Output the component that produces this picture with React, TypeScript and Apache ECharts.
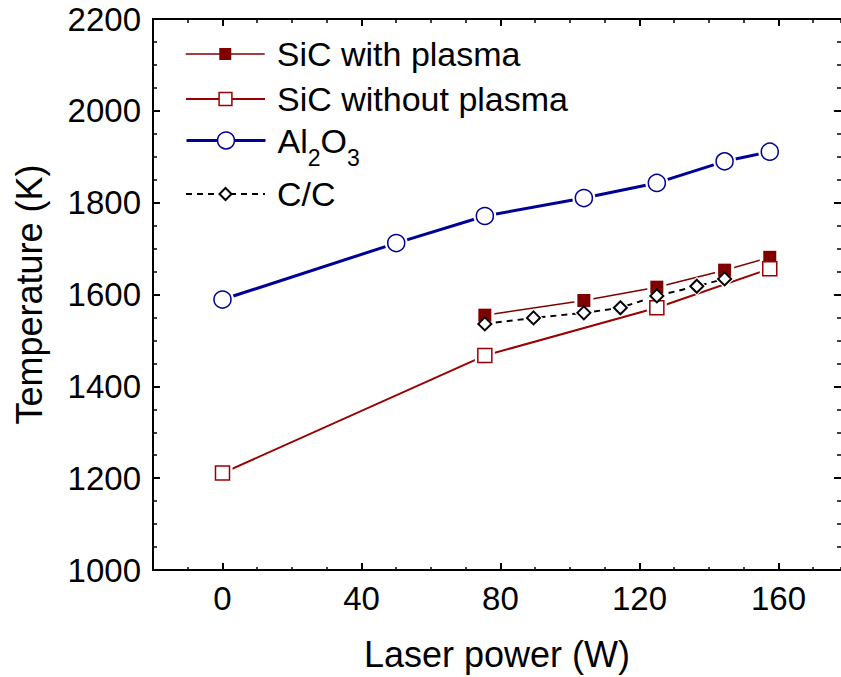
import React, { useEffect, useRef } from "react";
import * as echarts from "echarts";

// ---- tick values ----
const xMajorTicks = [0, 40, 80, 120, 160];
const yMajorTicks = [1000, 1200, 1400, 1600, 1800, 2000, 2200];

// ---- data: laser power (W) vs temperature (K) ----
const sicPlasmaPower = [75.5, 104, 125, 144.5, 157.5];
const sicPlasmaTemp = [1555, 1587, 1616, 1653, 1681];

const sicNoPlasmaPower = [0, 75.5, 125, 157.5];
const sicNoPlasmaTemp = [1211, 1467, 1571, 1656];

const al2o3Power = [0, 50, 75.5, 104, 125, 144.5, 157.5];
const al2o3Temp = [1589, 1712, 1771, 1810, 1843, 1890, 1911];

const ccPower = [75.5, 89.5, 104, 114.5, 125, 136.5, 144.5];
const ccTemp = [1536, 1549, 1560, 1571, 1597, 1618, 1634];

const zip = (xs: number[], ys: number[]) => xs.map((x, i) => [x, ys[i]]);

const FONT = "Liberation Sans, Arial, sans-serif";
const RED = "#800000";
const RED2 = "#9a0000";
const NAVY = "#000096";

export default function App() {
  const ref = useRef<HTMLDivElement>(null);

  useEffect(() => {
    if (!ref.current) return;
    const chart = echarts.init(ref.current, undefined, { renderer: "svg" });

    const grid = { left: 153, top: 19, width: 688, height: 552 };
    const xBase = { type: "value", min: -20, max: 178 };
    const yBase = { type: "value", min: 1000, max: 2200, interval: 200 };

    const sets = [
      { name: "SiC with plasma", data: zip(sicPlasmaPower, sicPlasmaTemp), symbol: "rect", size: 13,
        item: { color: RED, borderWidth: 0, opacity: 1 }, line: { color: RED, width: 1.5 },
        legendTop: 36, legendH: 15 },
      { name: "SiC without plasma", data: zip(sicNoPlasmaPower, sicNoPlasmaTemp), symbol: "rect", size: 14,
        item: { color: "#fff", borderColor: RED2, borderWidth: 1.5, opacity: 1 }, line: { color: RED2, width: 2 },
        legendTop: 81, legendH: 16 },
      { name: "Al2O3", data: zip(al2o3Power, al2o3Temp), symbol: "circle", size: 17,
        item: { color: "#fff", borderColor: NAVY, borderWidth: 1.5, opacity: 1 }, line: { color: NAVY, width: 3 },
        legendTop: 112, legendH: 21 },
      { name: "C/C", data: zip(ccPower, ccTemp), symbol: "diamond", size: 13,
        item: { color: "#fff", borderColor: "#000", borderWidth: 2, opacity: 1 }, line: { color: "#000", width: 2, type: [6, 5] },
        legendTop: 176, legendH: 15 },
    ];

    const lineSeries = sets.map((s) => ({
      type: "line", name: s.name, data: s.data, xAxisIndex: 0, yAxisIndex: 0,
      showSymbol: false, symbol: s.symbol, symbolSize: s.size,
      itemStyle: s.item, lineStyle: s.line, silent: true, z: 2,
    }));
    const haloSeries = sets.map((s) => ({
      type: "scatter", data: s.data, xAxisIndex: 0, yAxisIndex: 0,
      symbol: s.symbol, symbolSize: s.size + 6, itemStyle: { color: "#fff", opacity: 1 }, silent: true, z: 3,
    }));
    const markerSeries = sets.map((s) => ({
      type: "scatter", data: s.data, xAxisIndex: 0, yAxisIndex: 0,
      symbol: s.symbol, symbolSize: s.size, itemStyle: s.item, silent: true, z: 4,
    }));

    const axisLine = { show: true, onZero: false, lineStyle: { color: "#000", width: 2 } };
    const noLine = { show: false, onZero: false };

    const legends = sets.map((s) => ({
      orient: "vertical", left: 185, top: s.legendTop, padding: 0,
      itemWidth: 79, itemHeight: s.legendH, selectedMode: false,
      formatter: (name: string) => (name === "Al2O3" ? "Al{sub|2}O{sub|3}" : name),
      textStyle: {
        fontFamily: FONT, fontSize: 34, color: "#000", lineHeight: 36, padding: [0, 0, 0, 7],
        rich: { sub: { fontFamily: FONT, fontSize: 23, color: "#000", lineHeight: 36, padding: [34, 0, 0, 0] } },
      },
      data: [{ name: s.name, itemStyle: s.item, lineStyle: s.line }],
    }));

    chart.setOption({
      animation: false,
      backgroundColor: "#fff",
      grid: [grid, grid],
      xAxis: [
        { ...xBase, gridIndex: 0, position: "bottom", axisLine,
          axisTick: { show: true, inside: true, length: 7, customValues: xMajorTicks, lineStyle: { color: "#000", width: 2 } },
          axisLabel: { customValues: xMajorTicks, margin: 12, fontFamily: FONT, fontSize: 33, color: "#000" },
          splitLine: { show: false },
          name: "Laser power (W)", nameLocation: "middle", nameGap: 66,
          nameTextStyle: { fontFamily: FONT, fontSize: 36, color: "#000" } },
        { ...xBase, gridIndex: 0, position: "top", axisLine,
          axisTick: { show: true, inside: true, length: 7, customValues: xMajorTicks, lineStyle: { color: "#000", width: 2 } },
          axisLabel: { show: false }, splitLine: { show: false } },
        { ...xBase, interval: 10, gridIndex: 1, position: "bottom", axisLine: noLine,
          axisTick: { show: true, inside: true, length: 4, lineStyle: { color: "#000", width: 1.5 } },
          axisLabel: { show: false }, splitLine: { show: false } },
        { ...xBase, interval: 10, gridIndex: 1, position: "top", axisLine: noLine,
          axisTick: { show: true, inside: true, length: 4, lineStyle: { color: "#000", width: 1.5 } },
          axisLabel: { show: false }, splitLine: { show: false } },
      ],
      yAxis: [
        { ...yBase, gridIndex: 0, position: "left", axisLine,
          axisTick: { show: true, inside: true, length: 7, lineStyle: { color: "#000", width: 2 } },
          minorTick: { show: true, splitNumber: 4, length: 4, lineStyle: { color: "#000", width: 1.5 } },
          axisLabel: { margin: 12, fontFamily: FONT, fontSize: 33, color: "#000",
            formatter: (v: number) => (yMajorTicks.includes(v) ? String(v) : "") },
          splitLine: { show: false },
          name: "Temperature (K)", nameLocation: "middle", nameGap: 106,
          nameTextStyle: { fontFamily: FONT, fontSize: 36, color: "#000" } },
        { ...yBase, gridIndex: 0, position: "right", axisLine: noLine,
          axisTick: { show: true, inside: true, length: 7, lineStyle: { color: "#000", width: 2 } },
          minorTick: { show: true, splitNumber: 4, length: 4, lineStyle: { color: "#000", width: 1.5 } },
          axisLabel: { show: false }, splitLine: { show: false } },
        { ...yBase, gridIndex: 1, show: false },
      ],
      legend: legends,
      series: [...lineSeries, ...haloSeries, ...markerSeries],
    });

    return () => chart.dispose();
  }, []);

  return <div ref={ref} style={{ position: "fixed", left: 0, top: 0, width: 841, height: 677 }} />;
}
